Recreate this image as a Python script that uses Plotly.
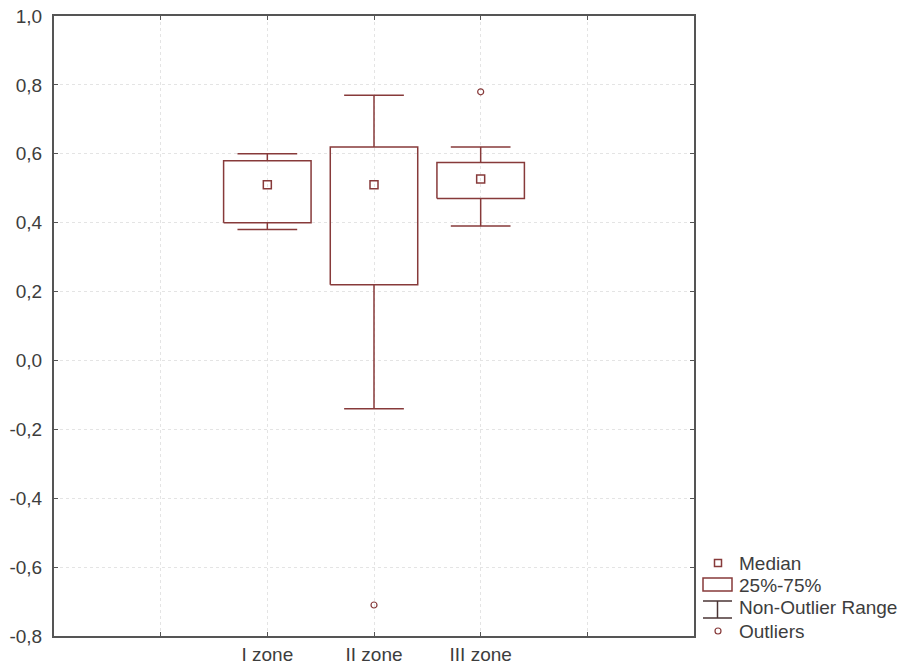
import plotly.graph_objects as go

# ---- data ----
zones = ["I zone", "II zone", "III zone"]
whisker_low = [0.38, -0.14, 0.39]
q1 = [0.40, 0.22, 0.47]
median = [0.51, 0.51, 0.527]
q3 = [0.58, 0.62, 0.575]
whisker_high = [0.60, 0.77, 0.62]
outlier_zone = ["II zone", "III zone"]
outlier_val = [-0.71, 0.78]

y_ticks = [-0.8, -0.6, -0.4, -0.2, 0.0, 0.2, 0.4, 0.6, 0.8, 1.0]
y_ticktext = [f"{v:.1f}".replace(".", ",") for v in y_ticks]
legend_labels = ["Median", "25%-75%", "Non-Outlier Range", "Outliers"]

# ---- styling ----
RED = "#873a3a"
TXT = "#3d3d3d"
FONT = "Liberation Sans, Arial"
W = 902
H = 667
ML, MR, MT, MB = 54, 208, 16, 31
BOX_HW = 0.41
CAP_HW = 0.28

xpos = {z: i + 2 for i, z in enumerate(zones)}

fig = go.Figure()

# boxes
bx, by = [], []
for z, a, b in zip(zones, q1, q3):
    x = xpos[z]
    bx += [x - BOX_HW, x + BOX_HW, x + BOX_HW, x - BOX_HW, x - BOX_HW, None]
    by += [a, a, b, b, a, None]
fig.add_trace(go.Scatter(x=bx, y=by, mode="lines", line=dict(color=RED, width=1.5),
                         showlegend=False, hoverinfo="skip"))

# whiskers
wx, wy = [], []
for z, lo, a, b, hi in zip(zones, whisker_low, q1, q3, whisker_high):
    x = xpos[z]
    wx += [x, x, None, x - CAP_HW, x + CAP_HW, None, x, x, None, x - CAP_HW, x + CAP_HW, None]
    wy += [b, hi, None, hi, hi, None, a, lo, None, lo, lo, None]
fig.add_trace(go.Scatter(x=wx, y=wy, mode="lines", line=dict(color=RED, width=1.5),
                         showlegend=False, hoverinfo="skip"))

# medians
fig.add_trace(go.Scatter(x=[xpos[z] for z in zones], y=median, mode="markers",
                         marker=dict(symbol="square-open", size=8, color=RED, line=dict(width=1.5)),
                         showlegend=False))

# outliers
fig.add_trace(go.Scatter(x=[xpos[z] for z in outlier_zone], y=outlier_val, mode="markers",
                         marker=dict(symbol="circle-open", size=6, color=RED, line=dict(width=1.2)),
                         showlegend=False))

# ---- custom legend (paper coordinates from pixels) ----
pw = W - ML - MR
ph = H - MT - MB


def px(x):
    return (x - ML) / pw


def py(y):
    return (H - MB - y) / ph


LEG_DARK = "#4a3434"
shapes = [
    dict(type="rect", xref="paper", yref="paper", x0=px(714.5), x1=px(721.5), y0=py(566.5), y1=py(559.5),
         line=dict(color=RED, width=1.5)),
    dict(type="rect", xref="paper", yref="paper", x0=px(703), x1=px(732), y0=py(591), y1=py(578),
         line=dict(color=RED, width=1.5)),
    dict(type="line", xref="paper", yref="paper", x0=px(703), x1=px(732), y0=py(601), y1=py(601),
         line=dict(color=LEG_DARK, width=1.5)),
    dict(type="line", xref="paper", yref="paper", x0=px(717.5), x1=px(717.5), y0=py(601), y1=py(618),
         line=dict(color=LEG_DARK, width=1.5)),
    dict(type="line", xref="paper", yref="paper", x0=px(703), x1=px(732), y0=py(618), y1=py(618),
         line=dict(color=LEG_DARK, width=1.5)),
    dict(type="circle", xref="paper", yref="paper", x0=px(715), x1=px(721), y0=py(634), y1=py(628),
         line=dict(color=RED, width=1.2)),
]
annotations = []
for lab, yy in zip(legend_labels, [563, 585, 607, 631]):
    annotations.append(dict(text=lab, xref="paper", yref="paper", x=px(737), y=py(yy),
                            xanchor="left", yanchor="middle", showarrow=False,
                            font=dict(family=FONT, size=19, color=TXT)))

axis_common = dict(
    showline=True, linecolor="#555555", linewidth=2, mirror="allticks",
    ticks="inside", ticklen=4, tickcolor="#555555",
    showgrid=True, gridcolor="#e4e4e4", griddash="dot", gridwidth=1,
    zeroline=False, automargin=False,
    tickfont=dict(family=FONT, size=19, color=TXT),
)

fig.update_layout(
    width=W, height=H,
    margin=dict(l=ML, r=MR, t=MT, b=MB, autoexpand=False),
    paper_bgcolor="white", plot_bgcolor="white",
    shapes=shapes,
    annotations=annotations,
    xaxis=dict(range=[0, 6], tickvals=[1, 2, 3, 4, 5],
               ticktext=[""] + zones + [""], **axis_common),
    yaxis=dict(range=[-0.8, 1.0], tickvals=y_ticks, ticktext=y_ticktext,
               ticklabelstandoff=6, **axis_common),
    font=dict(family=FONT),
)

fig.write_html("out.html")
